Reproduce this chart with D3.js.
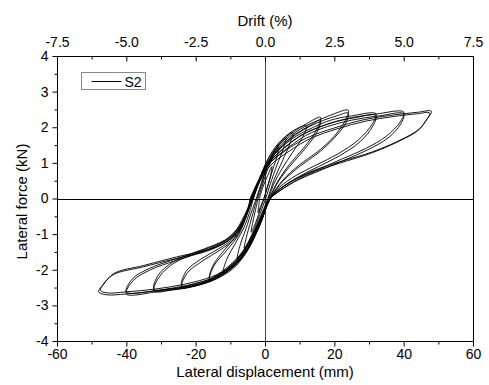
<!DOCTYPE html>
<html lang="en">
<head>
<meta charset="UTF-8">
<title>hysteresis S2</title>
<script src="https://cdn.jsdelivr.net/npm/d3@7"></script>
<style>
  body { margin: 0; background: #fff; }
  svg { font-family: "Liberation Sans", Arial, sans-serif; }
  .axis text { font-size: 14px; fill: #000; }
  .axis line, .axis path { stroke: #000; }
  .title { font-size: 15px; fill: #000; }
</style>
</head>
<body>
<script>
// tick values
let forceTicks = [-4, -3, -2, -1, 0, 1, 2, 3, 4];
let dispTicks = [-60, -40, -20, 0, 20, 40, 60];
let driftTicks = [-7.5, -5.0, -2.5, 0.0, 2.5, 5.0, 7.5];
let seriesName = 'S2';

// cycles, [displacement mm, force kN]
let loop02 = [[-1.6, 0], [-0.5, 0.35], [0.8, 0.65], [2.0, 0.9], [1.5, 0.6], [0.6, 0.3], [-0.3, 0], [-1.2, -0.2], [-2.0, -0.4], [-1.8, -0.2], [-1.6, 0]];
let loop04 = [[-2, 0], [-1, 0.3], [0.5, 0.75], [2, 1.1], [3, 1.3], [4, 1.45], [3.5, 1.2], [2.2, 0.8], [0.8, 0.35], [-0.3, 0], [-1.5, -0.35], [-3, -0.75], [-4, -0.95], [-3.6, -0.7], [-2.8, -0.35], [-2, 0]];
let loop06 = [[-2.3, 0], [-1, 0.4], [0.5, 0.85], [2, 1.2], [4, 1.5], [6, 1.7], [5.3, 1.4], [3.5, 0.95], [1.5, 0.4], [0.2, 0], [-1.5, -0.45], [-3.5, -0.95], [-5, -1.25], [-6, -1.4], [-5.4, -1.1], [-4, -0.6], [-2.3, 0]];
let loop08 = [[-2.5, 0], [-1, 0.45], [1, 1.0], [3, 1.4], [5, 1.65], [8, 1.85], [7.2, 1.55], [5, 1.05], [2.5, 0.5], [0.8, 0], [-1.5, -0.55], [-4, -1.1], [-6, -1.45], [-8, -1.7], [-7.3, -1.35], [-5.5, -0.85], [-3.8, -0.35], [-2.5, 0]];
let loop12 = [[-3.4, 0], [-1.8, 0.45], [0.3, 1.0], [3, 1.45], [6, 1.75], [9, 1.95], [12, 2.05], [11, 1.75], [8, 1.3], [5, 0.85], [2.5, 0.4], [1, 0], [-1.5, -0.6], [-4, -1.15], [-7, -1.6], [-10, -1.9], [-12, -2.05], [-11, -1.7], [-8.5, -1.25], [-6, -0.8], [-4.5, -0.4], [-3.4, 0]];
let loop16 = [[-3.6, 0], [-1.8, 0.5], [0.6, 1.05], [4, 1.5], [8, 1.85], [12, 2.1], [16, 2.28], [15, 1.95], [11, 1.4], [7, 0.95], [3.5, 0.45], [1.2, 0], [-1.5, -0.6], [-4.5, -1.2], [-8, -1.7], [-12, -2.05], [-16, -2.3], [-14.8, -1.9], [-11, -1.45], [-7.5, -1.0], [-5.2, -0.45], [-3.6, 0]];
let loop16b = [[-3.3, 0], [-1.5, 0.5], [1.2, 1.05], [5, 1.5], [9, 1.82], [13, 2.05], [16, 2.2], [15.2, 1.9], [12, 1.45], [8, 1.0], [4, 0.5], [1.4, 0], [-1.4, -0.62], [-4.8, -1.25], [-8.5, -1.72], [-12.5, -2.05], [-16, -2.25], [-15, -1.88], [-11.5, -1.42], [-7.8, -0.98], [-5.3, -0.42], [-3.3, 0]];
let loop24 = [[-3.8, 0], [-2, 0.45], [0.6, 1.0], [4, 1.45], [8, 1.8], [12, 2.05], [16, 2.22], [20, 2.38], [24, 2.48], [23.2, 2.2], [20, 1.75], [15, 1.3], [10, 0.95], [5, 0.5], [1.5, 0], [-1.5, -0.65], [-5, -1.35], [-9, -1.85], [-14, -2.2], [-19, -2.4], [-24, -2.5], [-22.5, -2.1], [-18, -1.75], [-13, -1.45], [-8.5, -1.1], [-5.6, -0.55], [-3.8, 0]];
let loop24b = [[-3.5, 0], [-1.7, 0.48], [1, 1.02], [5, 1.48], [9, 1.8], [13, 2.03], [17, 2.2], [21, 2.33], [24, 2.4], [23.3, 2.12], [20, 1.7], [15, 1.25], [10, 0.9], [5, 0.47], [1.6, 0], [-1.4, -0.68], [-5, -1.38], [-9.5, -1.88], [-14.5, -2.2], [-19.5, -2.37], [-24, -2.45], [-22.8, -2.05], [-18.5, -1.7], [-13.5, -1.42], [-8.8, -1.08], [-5.8, -0.52], [-3.5, 0]];
let loop32 = [[-4, 0], [-2, 0.45], [0.8, 1.0], [5, 1.45], [9, 1.75], [14, 2.0], [19, 2.2], [25, 2.32], [32, 2.38], [31, 2.1], [27, 1.65], [21, 1.25], [15, 0.95], [9, 0.65], [4, 0.3], [1.5, 0], [-1.5, -0.7], [-5, -1.4], [-9, -1.9], [-14, -2.25], [-20, -2.45], [-26, -2.55], [-32, -2.6], [-30.5, -2.2], [-26, -1.8], [-20, -1.55], [-14, -1.35], [-9, -1.05], [-5.8, -0.5], [-4, 0]];
let loop32b = [[-3.6, 0], [-1.8, 0.45], [1.2, 1.0], [5.5, 1.42], [10, 1.75], [15, 1.98], [20, 2.15], [26, 2.27], [32, 2.33], [31.2, 2.05], [27.5, 1.6], [21.5, 1.2], [15.5, 0.9], [9.5, 0.6], [4.5, 0.28], [1.6, 0], [-1.4, -0.72], [-5, -1.42], [-9.5, -1.92], [-15, -2.27], [-21, -2.45], [-27, -2.53], [-32, -2.55], [-30.8, -2.15], [-26.5, -1.78], [-20.5, -1.52], [-14.5, -1.3], [-9.3, -1.02], [-6, -0.48], [-3.6, 0]];
let loop40 = [[-4.2, 0], [-2.2, 0.45], [1, 1.0], [6, 1.45], [11, 1.8], [17, 2.05], [24, 2.25], [32, 2.37], [40, 2.43], [39, 2.15], [35, 1.75], [29, 1.4], [22, 1.1], [15, 0.8], [9, 0.55], [4, 0.25], [1.5, 0], [-1.5, -0.75], [-5, -1.45], [-9, -1.95], [-15, -2.3], [-22, -2.5], [-30, -2.6], [-40, -2.68], [-38, -2.3], [-33, -2.0], [-26, -1.75], [-18, -1.5], [-11, -1.2], [-6.5, -0.7], [-4.2, 0]];
let loop40b = [[-3.9, 0], [-1.9, 0.42], [1.5, 1.0], [7, 1.45], [12, 1.78], [18, 2.02], [25, 2.2], [33, 2.32], [40, 2.38], [39.2, 2.1], [35.5, 1.7], [29.5, 1.36], [22.5, 1.06], [15.5, 0.77], [9.5, 0.52], [4.5, 0.23], [1.6, 0], [-1.4, -0.73], [-5, -1.43], [-9.3, -1.93], [-15.5, -2.28], [-22.5, -2.47], [-30.5, -2.58], [-40, -2.62], [-38.2, -2.25], [-33.5, -1.97], [-26.5, -1.72], [-18.5, -1.47], [-11.5, -1.17], [-6.6, -0.66], [-3.9, 0]];
let loop48 = [[-4.3, 0], [-2.3, 0.4], [1, 0.95], [6, 1.35], [12, 1.7], [20, 1.98], [28, 2.2], [36, 2.33], [44, 2.42], [48, 2.45], [46.5, 2.2], [44.5, 1.95], [39, 1.64], [31, 1.31], [21.6, 1.03], [14.4, 0.8], [8, 0.5], [3.5, 0.2], [1.5, 0], [-1.5, -0.7], [-5, -1.45], [-9.2, -1.93], [-15, -2.24], [-22.6, -2.44], [-31, -2.58], [-40, -2.68], [-46, -2.7], [-48, -2.62], [-47, -2.45], [-43.8, -2.14], [-35.2, -1.92], [-25.4, -1.68], [-15.9, -1.45], [-9.2, -1.08], [-5.5, -0.52], [-4.3, 0]];
let loop48b = [[-4, 0], [-2, 0.38], [1.5, 0.92], [7, 1.33], [13, 1.68], [21, 1.96], [29, 2.17], [37, 2.3], [44, 2.38], [47.5, 2.4], [46.2, 2.15], [44, 1.9], [38.5, 1.6], [30.5, 1.27], [21.5, 0.99], [14.5, 0.76], [8.5, 0.48], [3.8, 0.18], [1.6, 0], [-1.4, -0.68], [-5, -1.42], [-9.5, -1.9], [-15.5, -2.2], [-23, -2.4], [-31.5, -2.54], [-40, -2.62], [-45.5, -2.65], [-47.5, -2.58], [-46.5, -2.4], [-43.5, -2.1], [-35, -1.88], [-25.5, -1.64], [-16, -1.41], [-9.5, -1.05], [-5.6, -0.5], [-4, 0]];

let loops = [loop02, loop04, loop06, loop08, loop12, loop16, loop16b, loop24, loop24b,
  loop32, loop32b, loop40, loop40b, loop48, loop48b];

let width = 489, height = 385;
let margins = {top: 56, left: 57, right: 16, bottom: 44};
let x0 = margins.left, x1 = width - margins.right;
let y0 = margins.top, y1 = height - margins.bottom;

let x = d3.scaleLinear().domain([-60, 60]).range([x0, x1]);
let y = d3.scaleLinear().domain([-4, 4]).range([y1, y0]);
let drift = d3.scaleLinear().domain([-7.5, 7.5]).range([x0, x1]);

let svg = d3.select('body').append('svg')
  .attr('width', width)
  .attr('height', height);

// zero lines
svg.append('line')
  .attr('x1', x0).attr('x2', x1)
  .attr('y1', Math.round(y(0)) + 0.5).attr('y2', Math.round(y(0)) + 0.5)
  .attr('stroke', '#000').attr('stroke-width', 1.2);
svg.append('line')
  .attr('x1', Math.round(x(0)) + 0.5).attr('x2', Math.round(x(0)) + 0.5)
  .attr('y1', y0).attr('y2', y1)
  .attr('stroke', '#444').attr('stroke-width', 1);

// curves
let line = d3.line()
  .x(function (d) { return x(d[0]); })
  .y(function (d) { return y(d[1]); })
  .curve(d3.curveCatmullRom.alpha(0.5));

svg.append('g')
  .selectAll('path')
  .data(loops)
  .enter()
  .append('path')
  .attr('d', line)
  .attr('fill', 'none')
  .attr('stroke', '#000')
  .attr('stroke-width', 0.9);

// axes
function minorOf(ticks) {
  let m = [];
  for (let i = 0; i < ticks.length - 1; i++) m.push((ticks[i] + ticks[i + 1]) / 2);
  return m;
}

svg.append('g').attr('class', 'axis').attr('transform', 'translate(' + (x0 + 0.5) + ',0)')
  .call(d3.axisLeft(y).tickValues(forceTicks).tickSize(5).tickSizeOuter(0).tickPadding(4)
    .tickFormat(function (d) { return String(d); }));
svg.append('g').attr('class', 'axis').attr('transform', 'translate(' + (x0 + 0.5) + ',0)')
  .call(d3.axisLeft(y).tickValues(minorOf(forceTicks)).tickSize(3).tickSizeOuter(0).tickFormat(''));

svg.append('g').attr('class', 'axis').attr('transform', 'translate(0,' + (y1 + 0.5) + ')')
  .call(d3.axisBottom(x).tickValues(dispTicks).tickSize(5).tickSizeOuter(0).tickPadding(3)
    .tickFormat(function (d) { return String(d); }));
svg.append('g').attr('class', 'axis').attr('transform', 'translate(0,' + (y1 + 0.5) + ')')
  .call(d3.axisBottom(x).tickValues(minorOf(dispTicks)).tickSize(3).tickSizeOuter(0).tickFormat(''));

svg.append('g').attr('class', 'axis').attr('transform', 'translate(0,' + (y0 + 0.5) + ')')
  .call(d3.axisTop(drift).tickValues(driftTicks).tickSize(-5).tickSizeOuter(0).tickPadding(10)
    .tickFormat(function (d) { return d.toFixed(1); }));
svg.append('g').attr('class', 'axis').attr('transform', 'translate(0,' + (y0 + 0.5) + ')')
  .call(d3.axisTop(drift).tickValues(minorOf(driftTicks)).tickSize(-3).tickSizeOuter(0).tickFormat(''));

svg.selectAll('.axis path.domain').remove();

// frame
svg.append('rect')
  .attr('x', x0 + 0.5).attr('y', y0 + 0.5)
  .attr('width', x1 - x0).attr('height', y1 - y0)
  .attr('fill', 'none').attr('stroke', '#000').attr('stroke-width', 1);

// titles
svg.append('text').attr('class', 'title')
  .attr('x', (x0 + x1) / 2).attr('y', 26)
  .attr('text-anchor', 'middle').text('Drift (%)');
svg.append('text').attr('class', 'title')
  .attr('x', (x0 + x1) / 2).attr('y', 377)
  .attr('text-anchor', 'middle').text('Lateral displacement (mm)');
svg.append('text').attr('class', 'title')
  .attr('transform', 'translate(27,' + ((y0 + y1) / 2 + 3) + ') rotate(-90)')
  .attr('text-anchor', 'middle').text('Lateral force (kN)');

// legend
let legend = svg.append('g').attr('transform', 'translate(81.5,72.5)');
legend.append('rect')
  .attr('width', 64).attr('height', 17)
  .attr('fill', '#fff').attr('stroke', '#888');
legend.append('line')
  .attr('x1', 10).attr('x2', 40).attr('y1', 9).attr('y2', 9)
  .attr('stroke', '#000').attr('stroke-width', 1);
legend.append('text')
  .attr('x', 43).attr('y', 14)
  .style('font-size', '14px')
  .text(seriesName);
</script>
</body>
</html>
